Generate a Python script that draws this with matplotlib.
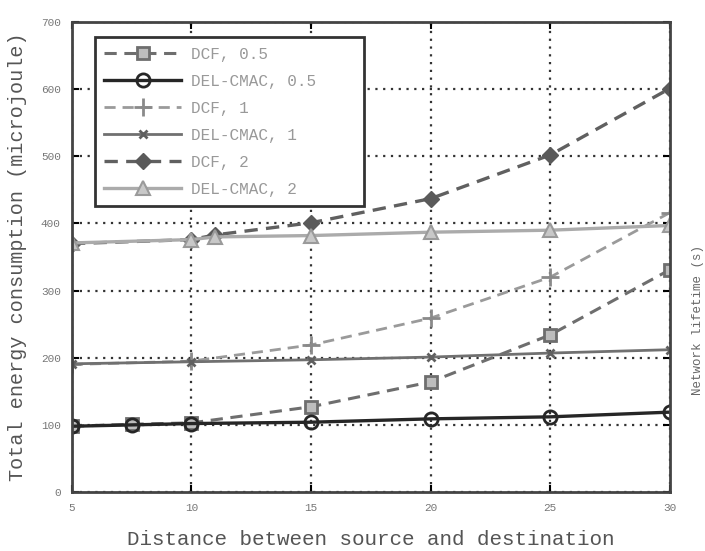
import matplotlib
matplotlib.use('Agg')
import matplotlib.pyplot as plt

# data
x_dcf05 = [5, 7.5, 10, 15, 20, 25, 30]
dcf05 = [98, 101, 103, 127, 164, 234, 331]
x_del05 = [5, 7.5, 10, 15, 20, 25, 30]
del05 = [98, 100, 102, 104, 109, 112, 119]
x_dcf1 = [5, 10, 15, 20, 25, 30]
dcf1 = [190, 195, 219, 259, 320, 416]
x_del1 = [5, 10, 15, 20, 25, 30]
del1 = [191, 194, 197, 201, 207, 212]
x_dcf2 = [5, 10, 11, 15, 20, 25, 30]
dcf2 = [370, 376, 383, 401, 437, 502, 601]
x_del2 = [5, 10, 11, 15, 20, 25, 30]
del2 = [371, 376, 380, 382, 387, 390, 397]

labels = ['DCF, 0.5', 'DEL-CMAC, 0.5', 'DCF, 1', 'DEL-CMAC, 1', 'DCF, 2', 'DEL-CMAC, 2']
xticks = [5, 10, 15, 20, 25, 30]
yticks = [0, 100, 200, 300, 400, 500, 600, 700]

plt.rcParams['font.family'] = ['Liberation Mono', 'DejaVu Sans Mono']

fig = plt.figure(figsize=(7.05, 5.51), dpi=100)
ax = fig.add_axes([0.102, 0.107, 0.848, 0.853])

ax.plot(x_dcf05, dcf05, linestyle=(0, (4, 2.5)), color='#6e6e6e', lw=2.2,
        marker='s', ms=8, mfc='#bdbdbd', mec='#6e6e6e', mew=2, label=labels[0])
ax.plot(x_del05, del05, linestyle='-', color='#262626', lw=2.4,
        marker='o', ms=9.5, mfc='none', mec='#262626', mew=2, label=labels[1])
ax.plot(x_dcf1, dcf1, linestyle=(0, (4, 2.5)), color='#9a9a9a', lw=2.0,
        marker='+', ms=13, mew=2, mec='#8a8a8a', label=labels[2])
ax.plot(x_del1, del1, linestyle='-', color='#707070', lw=2.0,
        marker='x', ms=6, mew=2, mec='#606060', label=labels[3])
ax.plot(x_dcf2, dcf2, linestyle=(0, (4, 2.5)), color='#606060', lw=2.4,
        marker='D', ms=8, mfc='#5a5a5a', mec='#5a5a5a', label=labels[4])
ax.plot(x_del2, del2, linestyle='-', color='#ababab', lw=2.4,
        marker='^', ms=10, mfc='#c8c8c8', mec='#9a9a9a', mew=1.5, label=labels[5])

ax.set_xlim(5, 30)
ax.set_ylim(0, 700)
ax.set_xticks(xticks)
ax.set_yticks(yticks)
ax.grid(True, linestyle=(0, (1, 2.5)), color='#333333', lw=1.6)
ax.tick_params(direction='in', top=True, right=True, length=5, width=1.5,
               labelsize=8, labelcolor='#777777', pad=8)
for s in ax.spines.values():
    s.set_linewidth(2)
    s.set_color('#444444')

ax.set_xlabel('Distance between source and destination', fontsize=15,
              color='#555555', labelpad=12)
ax.set_ylabel('Total energy consumption (microjoule)', fontsize=14.5,
              color='#555555', labelpad=10)
fig.text(0.998, 0.42, 'Network lifetime (s)', rotation=90, fontsize=9,
         color='#666666', ha='right', va='center')

leg = ax.legend(loc='upper left', bbox_to_anchor=(0.025, 0.604, 0.477, 0.381),
                mode='expand', fontsize=11.5, handlelength=4.8,
                labelspacing=0.75, borderpad=0.6, handletextpad=0.6,
                fancybox=False, framealpha=1, edgecolor='#333333')
leg.get_frame().set_linewidth(2)
for t in leg.get_texts():
    t.set_color('#999999')

fig.savefig('out.png', dpi=100)
